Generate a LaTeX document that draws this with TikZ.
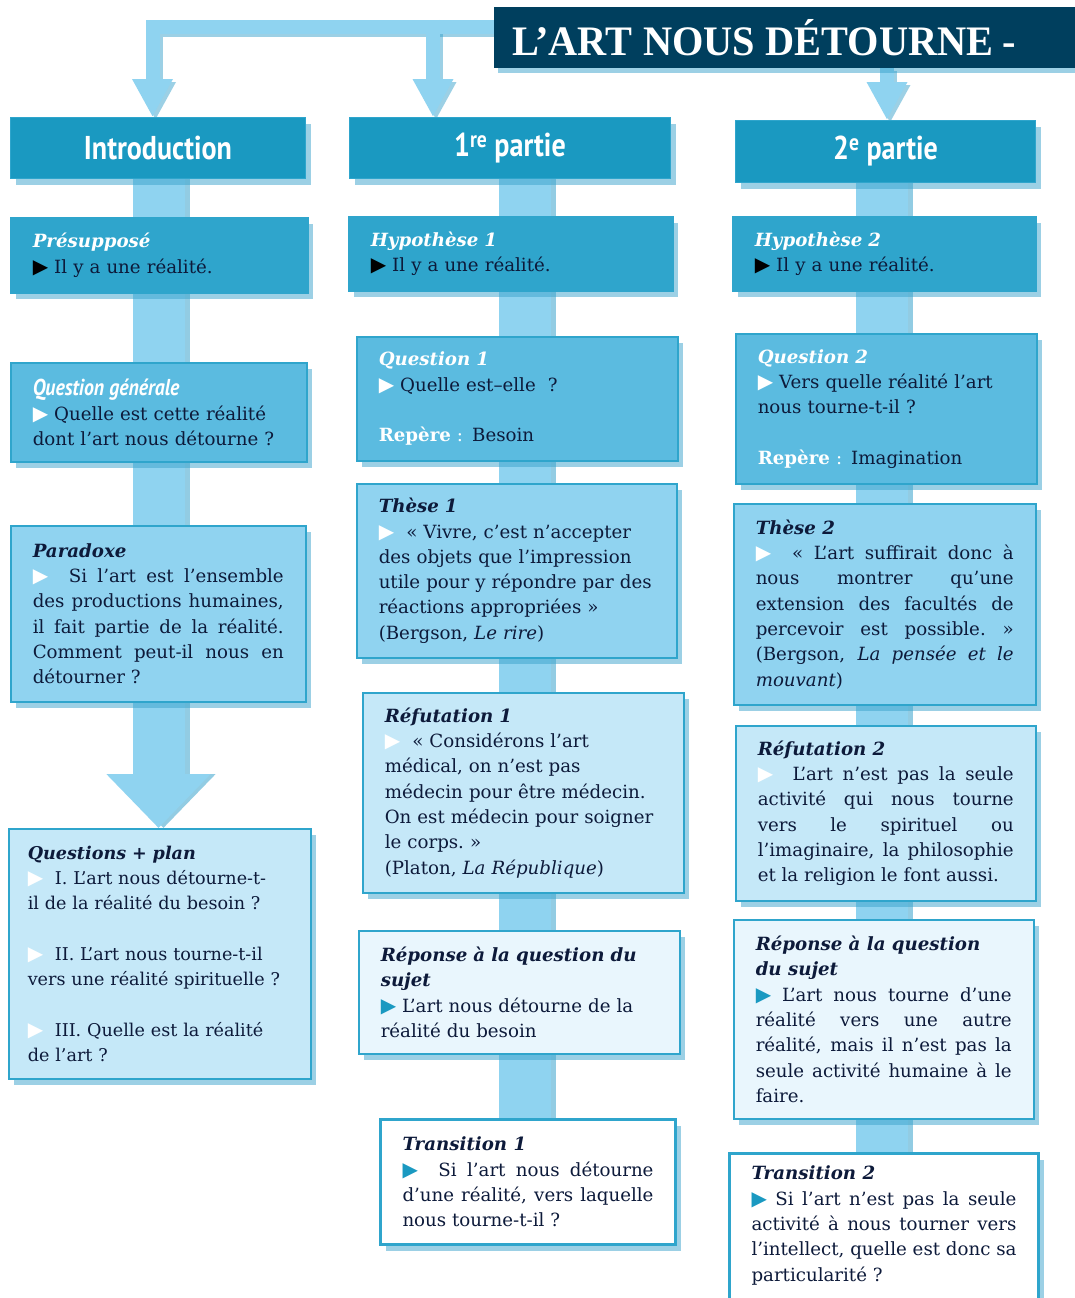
\documentclass[tikz,border=0pt]{standalone}
\usepackage{fontspec}
\usepackage{graphicx}
\setmainfont{DejaVu Serif}
\newfontfamily\hdrfont{PT Sans}
\newfontfamily\symfont{DejaVu Sans}
\newfontfamily\ttlfont{Liberation Serif}
\usetikzlibrary{arrows.meta,shadows}
\pgfdeclarelayer{bglayer}
\pgfdeclarelayer{bandlayer}
\pgfsetlayers{bglayer,bandlayer,main}
\definecolor{navy}{HTML}{003F5E}
\definecolor{hdrblue}{HTML}{1A99C1}
\definecolor{lvA}{HTML}{2FA5CC}
\definecolor{lvB}{HTML}{5BBBE0}
\definecolor{lvC}{HTML}{90D3F0}
\definecolor{lvD}{HTML}{C5E8F8}
\definecolor{lvE}{HTML}{E9F6FD}
\definecolor{bandc}{HTML}{8FD3F0}
\definecolor{bandsh}{HTML}{3AA3CC}
\definecolor{ink}{HTML}{0D1A3A}
\setlength{\parindent}{0pt}
\hyphenpenalty=10000
\exhyphenpenalty=10000
\newcommand{\tri}[1]{{\color{#1}\symfont\fontsize{20pt}{20pt}\selectfont ▶}}
\newcommand{\bt}[1]{\textbf{\textit{#1}}}
\begin{document}
\begin{tikzpicture}[x=1pt,y=-1pt,
  box/.style={draw=lvA, line width=1.5pt, anchor=north west, inner xsep=22pt, inner ysep=0pt,
    text=ink, font=\fontsize{18.2pt}{25.3pt}\selectfont,
    drop shadow={shadow xshift=5pt, shadow yshift=-6pt, fill=bandsh, opacity=0.5}},
  trbox/.style={box, line width=3pt, fill=white},
  hdr/.style={fill=hdrblue, draw=lvA, line width=1pt, anchor=north west, inner sep=0pt, text=white,
    font=\hdrfont\bfseries\fontsize{33pt}{33pt}\selectfont,
    drop shadow={shadow xshift=5pt, shadow yshift=-6pt, fill=bandsh, opacity=0.5}},
  band/.style={line width=52pt, draw=bandc},
  bandshadow/.style={line width=52pt, draw=bandsh, opacity=0.55, transform canvas={xshift=5pt}},
  tband/.style={line width=14pt, draw=bandc},
  tbandshadow/.style={line width=14pt, draw=bandsh, opacity=0.5, transform canvas={xshift=3pt,yshift=-3pt}},
  bigtip/.style={-{Triangle[width=101pt,length=54pt]}},
  smalltip/.style={-{Triangle[width=38pt,length=38pt]}}
]
\useasboundingbox (0,0) rectangle (1074,1298);
\begin{pgfonlayer}{bglayer}
\fill[white] (0,0) rectangle (1074,1298);
\end{pgfonlayer}

% column coordinates
\coordinate (cA) at (158.5,0);
\coordinate (cB) at (525,0);
\coordinate (cC) at (882,0);
\coordinate (aL) at (152.5,27.5);
\coordinate (aM) at (433,20);
\coordinate (aR) at (887,0);

% ---------- headers ----------
\node[hdr, minimum width=295pt, minimum height=61pt] (intro) at (10,117) {\scalebox{0.85}[1]{Introduction}};
\node[hdr, minimum width=321pt, minimum height=61pt] (part1) at (349,117) {\scalebox{0.85}[1]{1\textsuperscript{re} partie}};
\node[hdr, minimum width=300pt, minimum height=62pt] (part2) at (735,120) {\scalebox{0.85}[1]{2\textsuperscript{e} partie}};

% ---------- boxes: column 1 ----------
\path
 node[box, fill=lvA, minimum width=297pt, minimum height=75pt, text width=253pt, align=left] (pres) at (10,217)
  {{\color{white}\bt{Présupposé}}\par\tri{black} Il y a une réalité.}
 node[box, fill=lvB, minimum width=296pt, minimum height=99pt, text width=252pt, align=left] (qgen) at (10,362)
  {{\color{white}\hdrfont\bfseries\itshape\fontsize{23pt}{23pt}\selectfont\scalebox{0.86}[1]{Question générale}}\par\tri{white} Quelle est cette réalité\newline dont l’art nous détourne~?}
 node[box, fill=lvC, minimum width=295pt, minimum height=176pt, text width=251pt, align=justify] (para) at (10,525)
  {\bt{Paradoxe}\par\tri{white}\ \ Si l’art est l’ensemble\linebreak des productions humaines,\linebreak il fait partie de la réalité.\linebreak Comment peut-il nous en\linebreak détourner~?}
 node[box, fill=lvD, minimum width=302pt, minimum height=250pt, text width=264pt, inner xsep=19pt, align=left, font=\fontsize{17.6pt}{25.3pt}\selectfont] (qplan) at (8,828)
  {\bt{Questions + plan}\par\tri{white}\ \ I. L’art nous détourne-t-\newline il de la réalité du besoin~?\par\mbox{}\par\tri{white}\ \ II. L’art nous tourne-t-il\newline vers une réalité spirituelle~?\par\mbox{}\par\tri{white}\ \ III. Quelle est la réalité\newline de l’art~?};

% ---------- boxes: column 2 ----------
\path
 node[box, fill=lvA, minimum width=324pt, minimum height=74pt, text width=280pt, align=left] (hyp1) at (348,216)
  {{\color{white}\bt{Hypothèse 1}}\par\tri{black} Il y a une réalité.}
 node[box, fill=lvB, minimum width=321pt, minimum height=124pt, text width=277pt, align=left] (q1) at (356,336)
  {{\color{white}\bt{Question 1}}\par\tri{white} Quelle est–elle~~?\par\mbox{}\par{\color{white}\textbf{Repère} :} Besoin}
 node[box, fill=lvC, minimum width=320pt, minimum height=174pt, text width=276pt, align=left] (these1) at (356,483)
  {\bt{Thèse 1}\par\tri{white}\ \ «~Vivre, c’est n’accepter\newline des objets que l’impression\newline utile pour y répondre par des\newline réactions appropriées~»\newline (Bergson, \textit{Le rire})}
 node[box, fill=lvD, minimum width=321pt, minimum height=200pt, text width=277pt, align=left] (ref1) at (362,692)
  {\bt{Réfutation 1}\par\tri{white}\ \ «~Considérons l’art\newline médical, on n’est pas\newline médecin pour être médecin.\newline On est médecin pour soigner\newline le corps.~»\newline (Platon, \textit{La République})}
 node[box, fill=lvE, minimum width=321pt, minimum height=123pt, text width=277pt, align=left] (rep1) at (358,930)
  {\bt{Réponse à la question du\newline sujet}\par\tri{hdrblue} L’art nous détourne de la\newline réalité du besoin}
 node[trbox, minimum width=295pt, minimum height=125pt, text width=251pt, align=justify] (trans1) at (379,1118)
  {\bt{Transition 1}\par\tri{hdrblue}\ \ Si l’art nous détourne\linebreak d’une réalité, vers laquelle\linebreak nous tourne-t-il~?};

% ---------- boxes: column 3 ----------
\path
 node[box, fill=lvA, minimum width=303pt, minimum height=74pt, text width=259pt, align=left] (hyp2) at (732,216)
  {{\color{white}\bt{Hypothèse 2}}\par\tri{black} Il y a une réalité.}
 node[box, fill=lvB, minimum width=301pt, minimum height=150pt, text width=257pt, align=left] (q2) at (735,333)
  {{\color{white}\bt{Question 2}}\par\tri{white} Vers quelle réalité l’art\newline nous tourne-t-il~?\par\mbox{}\par{\color{white}\textbf{Repère} :} Imagination}
 node[box, fill=lvC, minimum width=302pt, minimum height=201pt, text width=258pt, align=justify] (these2) at (733,503)
  {\bt{Thèse 2}\par\tri{white}\ \ «~L’art suffirait donc à\linebreak nous montrer qu’une\linebreak extension des facultés de\linebreak percevoir est possible.~»\linebreak (Bergson, \textit{La pensée et le\linebreak mouvant})}
 node[box, fill=lvD, minimum width=300pt, minimum height=175pt, text width=256pt, align=justify] (ref2) at (735,725)
  {\bt{Réfutation 2}\par\tri{white}\ \ L’art n’est pas la seule\linebreak activité qui nous tourne\linebreak vers le spirituel ou\linebreak l’imaginaire, la philosophie\linebreak et la religion le font aussi.}
 node[box, fill=lvE, minimum width=300pt, minimum height=199pt, text width=256pt, align=justify] (rep2) at (733,919)
  {\bt{Réponse à la question\newline du sujet}\par\tri{hdrblue} L’art nous tourne d’une\linebreak réalité vers une autre\linebreak réalité, mais il n’est pas la\linebreak seule activité humaine à le\linebreak faire.}
 node[trbox, minimum width=309pt, minimum height=170pt, text width=265pt, align=justify] (trans2) at (728,1152)
  {\bt{Transition 2}\par\tri{hdrblue} Si l’art n’est pas la seule\linebreak activité à nous tourner vers\linebreak l’intellect, quelle est donc sa\linebreak particularité~?\par\vspace*{26pt}};

% ---------- title ----------
\node[fill=navy, anchor=north west, minimum height=61pt, text width=570pt, inner xsep=18pt, inner ysep=0pt, align=left, text=white,
  drop shadow={shadow xshift=4pt, shadow yshift=-5pt, fill=bandsh, opacity=0.5}] (title) at (494,7)
  {\ttlfont\bfseries\fontsize{42pt}{42pt}\selectfont\scalebox{0.96}[1]{L’ART\hspace{11pt}NOUS\hspace{11pt}DÉTOURNE\hspace{10pt}-}};

% ---------- bands (behind the boxes) ----------
\begin{pgfonlayer}{bandlayer}
  % column 1
  \draw[bandshadow, bigtip] (intro.south -| cA) -- (qplan.north -| cA);
  \draw[band, bigtip] (intro.south -| cA) -- (qplan.north -| cA);
  % column 2
  \draw[bandshadow] (part1.south -| cB) -- (trans1.north -| cB);
  \draw[band] (part1.south -| cB) -- (trans1.north -| cB);
  % column 3
  \draw[bandshadow] (part2.south -| cC) -- (trans2.north -| cC);
  \draw[band] (part2.south -| cC) -- (trans2.north -| cC);
  % title arrows
  \draw[tbandshadow, smalltip] (title.west |- aL) -| (intro.north -| aL);
  \draw[tbandshadow, smalltip] (aM) -- (part1.north -| aM);
  \draw[tbandshadow, smalltip] (title.south -| aR) -- (part2.north -| aR);
  \draw[tband, smalltip] (title.west |- aL) -| (intro.north -| aL);
  \draw[tband, smalltip] (aM) -- (part1.north -| aM);
  \draw[tband, smalltip] (title.south -| aR) -- (part2.north -| aR);
\end{pgfonlayer}
\end{tikzpicture}
\end{document}
